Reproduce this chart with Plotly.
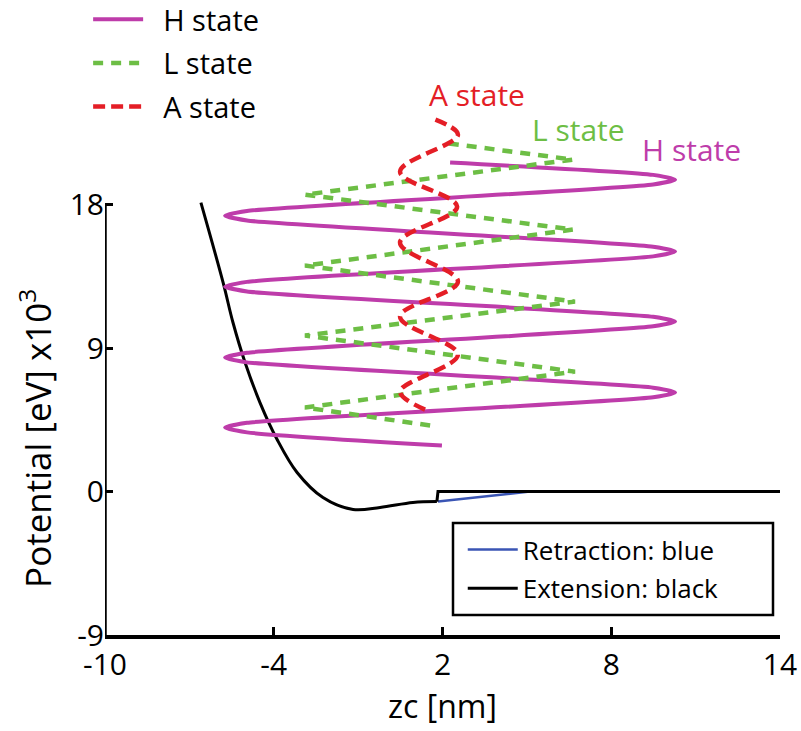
import plotly.graph_objects as go

# ---- data ----
h_x = [1.98, -4.95, -5.73, -4.95, 9.49, 10.27, 9.49, -4.95, -5.73, -4.95, 9.49, 10.27, 9.49,
       -4.95, -5.73, -4.95, 9.49, 10.27, 9.49, -4.95, -5.73, -4.95, 9.49, 10.27, 9.49, 2.27]
h_y = [2.88, 3.71, 4.01, 4.31, 5.91, 6.21, 6.51, 8.10, 8.40, 8.70, 10.36, 10.66, 10.96,
       12.55, 12.85, 13.15, 14.75, 15.05, 15.35, 17.00, 17.30, 17.60, 19.26, 19.56, 19.86, 20.63]

l_x = [1.56, -2.89, 6.71, -2.89, 6.71, -2.89, 6.64, -2.89, 6.64, 2.02]
l_y = [4.14, 5.27, 7.52, 9.78, 11.91, 14.17, 16.43, 18.62, 20.82, 21.88]

a_x = [1.38, 0.49, 2.55, 0.49, 2.55, 0.49, 2.52, 0.49, 2.55, 1.56]
a_y = [5.14, 6.27, 8.59, 10.97, 13.17, 15.61, 17.87, 20.06, 22.38, 23.45]

ext_curve_x = [-6.59, -5.80, -5.45, -5.02, -4.49, -3.88, -3.17, -2.25, -1.18, -0.22, 0.95, 1.80]
ext_curve_y = [18.12, 13.10, 10.60, 8.09, 5.58, 3.26, 1.19, -0.38, -1.13, -1.00, -0.69, -0.63]
ext_flat_x = [1.80, 1.84, 14.0]
ext_flat_y = [-0.63, 0.0, 0.0]

ret_x = [1.84, 5.11, 14.0]
ret_y = [-0.63, 0.0, 0.0]

x_ticks = [-10, -4, 2, 8, 14]
y_ticks = [-9, 0, 9, 18]

label_text = ["A state", "L state", "H state"]
label_x = [3.23, 6.82, 10.87]
label_y = [24.88, 22.68, 21.43]

MAG = "#BE3CAA"
GRN = "#6DBE45"
RED = "#E41E26"
BLU = "#3A55B4"
FONT = "Open Sans"
NB = "\u00a0\u00a0"

fig = go.Figure()

fig.add_trace(go.Scatter(x=ret_x, y=ret_y, mode="lines", name="Retraction: blue",
                         line=dict(color=BLU, width=2.5), legend="legend2", legendgroup="r"))
fig.add_trace(go.Scatter(x=ext_curve_x, y=ext_curve_y, mode="lines", name="Extension: black",
                         line=dict(color="black", width=3, shape="spline"), legend="legend2",
                         legendgroup="e"))
fig.add_trace(go.Scatter(x=ext_flat_x, y=ext_flat_y, mode="lines", name="Extension: black",
                         line=dict(color="black", width=3), legend="legend2",
                         legendgroup="e", showlegend=False))

fig.add_trace(go.Scatter(x=h_x, y=h_y, mode="lines", name=NB + "H state",
                         line=dict(color=MAG, width=4, shape="spline", smoothing=0.6),
                         legendgroup="h"))
fig.add_trace(go.Scatter(x=l_x, y=l_y, mode="lines", name=NB + "L state",
                         line=dict(color=GRN, width=4.5, dash="10px,8px"), legendgroup="l"))
fig.add_trace(go.Scatter(x=a_x, y=a_y, mode="lines", name=NB + "A state",
                         line=dict(color=RED, width=4.5, dash="12px,6px", shape="spline"),
                         legendgroup="a"))

for t, x, y, c in zip(label_text, label_x, label_y, [RED, GRN, MAG]):
    fig.add_annotation(x=x, y=y, text=t, showarrow=False,
                       font=dict(family=FONT, size=30, color=c))

# y axis title centred on the drawn part of the axis (-9 .. 18)
fig.add_annotation(xref="paper", yref="y", x=(36 - 105) / 675, y=3.3,
                   xanchor="center", yanchor="middle",
                   text="Potential [eV] x10<sup>3</sup>", textangle=-90, showarrow=False,
                   font=dict(family=FONT, size=35, color="black"))

# left axis line only from -9 to 18
fig.add_shape(type="line", xref="x", yref="y", x0=-10, x1=-10, y0=-9, y1=18,
              line=dict(color="black", width=3.5))
# legend box (bottom right)
fig.add_shape(type="rect", xref="paper", yref="paper",
              x0=(453 - 105) / 675, x1=(773 - 105) / 675,
              y0=(635 - 615) / 558, y1=(635 - 523) / 558,
              line=dict(color="black", width=2.5), fillcolor="rgba(0,0,0,0)")

fig.update_layout(
    width=801, height=731,
    margin=dict(l=105, r=21, t=77, b=96, autoexpand=False),
    paper_bgcolor="white", plot_bgcolor="white",
    font=dict(family=FONT, size=30, color="black"),
    showlegend=True,
    legend=dict(x=-0.025, y=1.149, xanchor="left", yanchor="top",
                font=dict(family=FONT, size=29), bgcolor="rgba(0,0,0,0)",
                tracegroupgap=3, itemwidth=50),
    legend2=dict(x=0.530, y=0.1953, xanchor="left", yanchor="top",
                 font=dict(family=FONT, size=26), bgcolor="rgba(0,0,0,0)",
                 tracegroupgap=2, itemwidth=50),
    xaxis=dict(range=[-10, 14], tickvals=x_ticks, ticktext=[str(v) for v in x_ticks],
               showline=True, linecolor="black", linewidth=3.5, mirror=False,
               ticks="inside", ticklen=8, tickwidth=3, tickcolor="black",
               showgrid=False, zeroline=False, tickfont=dict(size=30),
               title=dict(text="zc [nm]", font=dict(size=32), standoff=6)),
    yaxis=dict(range=[-9, 26], tickvals=y_ticks, ticktext=[str(v) for v in y_ticks],
               showline=False, ticks="inside", ticklen=8, tickwidth=3, tickcolor="black",
               showgrid=False, zeroline=False, tickfont=dict(size=30)),
)

fig.write_html("out.html")
